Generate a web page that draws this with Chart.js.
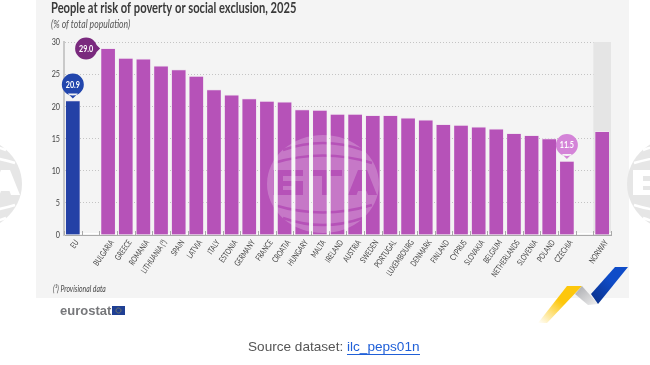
<!DOCTYPE html>
<html>
<head>
<meta charset="utf-8">
<style>
	html, body { margin: 0; padding: 0; background: #fff; }
	#page { position: relative; width: 650px; height: 365px; overflow: hidden; }
	#panel { position: absolute; left: 36px; top: 0; width: 593px; height: 298px; background: #f4f4f4; }
	#chart { position: absolute; left: 0; top: 0; }
	#deco, #deco2 { position: absolute; left: 0; top: 0; }
	#note { position: absolute; left: 53px; top: 283px; font: italic 9.500px Lato, sans-serif; color: #444; transform: scaleX(0.72); transform-origin: left top; white-space: pre; }
	#logo { position: absolute; left: 60px; top: 303px; font: bold 13px "Liberation Sans", sans-serif; color: #77787b; }
	#source { position: absolute; left: 248px; top: 339px; font: 13.6px "Liberation Sans", sans-serif; color: #555; white-space: pre; }
	#source a { color: #2060d8; text-decoration: none; border-bottom: 1px solid #2060d8; }
</style>
</head>
<body>
<div id="page">
	<div id="panel"></div>
	<svg id="deco" width="650" height="365">
		<defs>
			<linearGradient id="yel" x1="1" y1="0" x2="0" y2="1">
				<stop offset="0.45" stop-color="#fdc70c"/>
				<stop offset="1" stop-color="#fdc70c" stop-opacity="0"/>
			</linearGradient>
			<linearGradient id="gry" x1="0" y1="0" x2="1" y2="1">
				<stop offset="0" stop-color="#a8a9ad"/>
				<stop offset="1" stop-color="#f0f0f0"/>
			</linearGradient>
			<linearGradient id="blu" x1="1" y1="0" x2="0" y2="1">
				<stop offset="0.4" stop-color="#0f4cc8"/>
				<stop offset="1" stop-color="#0a2f86"/>
			</linearGradient>
			<mask id="bta" maskUnits="userSpaceOnUse" x="250" y="120" width="150" height="130">
				<ellipse cx="323" cy="184" rx="56" ry="49" fill="#fff"/>
				<path d="M283 150 Q323 136 363 150 M274 163 Q323 148 372 163 M274 205 Q323 220 372 205 M283 218 Q323 232 363 218" stroke="#000" stroke-width="2.5" fill="none"/>
				<path d="M273 170h30v6h-20v5h20v14h-30z M283 186v4h10v-4z M310 170h32v6h-12v19h-8v-19h-12z M348 195l10-25h9l10 25h-9l-1.500-4h-8.500l-1.500 4z" fill="#000" fill-rule="evenodd"/>
			</mask>
		</defs>
		<g transform="translate(-357,0)"><rect x="250" y="120" width="150" height="130" fill="#e6e6e6" mask="url(#bta)"/></g>
		<g transform="translate(360,0)"><rect x="250" y="120" width="150" height="130" fill="#e6e6e6" mask="url(#bta)"/></g>
		<polygon points="567,286 582,286 547,323 538,323" fill="url(#yel)"/>
		<polygon points="582,286 598,304 588,305 575,294" fill="url(#gry)"/>
		<polygon points="615,267 628,267 598,304 591,294" fill="url(#blu)"/>
		<rect x="112" y="306" width="13" height="9" fill="#1f3f94"/>
		<circle cx="118.500" cy="310.500" r="2.500" fill="none" stroke="#c9b23a" stroke-width="0.800" stroke-dasharray="1 0.900"/>
	</svg>
	<canvas id="chart" width="650" height="365"></canvas>
	<svg id="deco2" width="650" height="365">
		<rect x="250" y="120" width="150" height="130" fill="#fff" fill-opacity="0.22" mask="url(#bta)"/>
	</svg>
	<div id="note">(¹) Provisional data</div>
	<div id="logo">eurostat</div>
	<div id="source">Source dataset: <a href="#">ilc_peps01n</a></div>
</div>
<script src="https://cdn.jsdelivr.net/npm/chart.js@4"></script>
<script>
const categories = ["EU", "", "BULGARIA", "GREECE", "ROMANIA", "LITHUANIA (¹)", "SPAIN", "LATVIA", "ITALY", "ESTONIA", "GERMANY", "FRANCE", "CROATIA", "HUNGARY", "MALTA", "IRELAND", "AUSTRIA", "SWEDEN", "PORTUGAL", "LUXEMBOURG", "DENMARK", "FINLAND", "CYPRUS", "SLOVAKIA", "BELGIUM", "NETHERLANDS", "SLOVENIA", "POLAND", "CZECHIA", "", "NORWAY"];
const values = [20.9, null, 29.0, 27.5, 27.4, 26.3, 25.7, 24.7, 22.6, 21.8, 21.2, 20.8, 20.7, 19.5, 19.4, 18.8, 18.8, 18.6, 18.6, 18.2, 17.9, 17.2, 17.1, 16.8, 16.5, 15.8, 15.5, 15.0, 11.5, null, 16.1];
const barColors = values.map((v, i) => i == 0 ? "#2441a6" : "#b652b8");
const callouts = [
	{ index: 0, color: "#2246ad", side: "top" },
	{ index: 2, color: "#7a2a7e", side: "left" },
	{ index: 28, color: "#d484d8", side: "top" },
];
const FONT = 'Lato, sans-serif';
const NARROW = 0.72;

// no condensed font is installed, so squeeze all canvas text horizontally
const canvas = document.getElementById('chart');
const rawCtx = canvas.getContext('2d');
const rawFillText = rawCtx.fillText;
rawCtx.fillText = function(text, x, y) {
	this.save();
	this.translate(x, y);
	this.scale(NARROW, 1);
	rawFillText.call(this, text, 0, 0);
	this.restore();
};

const chartDecor = {
	id: 'chartDecor',
	beforeDatasetsDraw(chart) {
		const { ctx, chartArea: { top, bottom, right }, scales: { x } } = chart;
		const slot = x.getPixelForValue(1) - x.getPixelForValue(0);
		// shaded band behind the non-EU country
		ctx.save();
		ctx.fillStyle = "#e5e5e5";
		ctx.fillRect(x.getPixelForValue(30) - slot / 2, top, slot, bottom - top);
		// white line above the axis and the small ticks between slots
		ctx.fillStyle = "#fff";
		ctx.fillRect(x.left, bottom - 2, right - x.left, 1);
		ctx.fillStyle = "#a9a9a9";
		for (let i = 0; i <= 31; i++) {
			ctx.fillRect(Math.round(x.getPixelForValue(0) + (i - 0.5) * slot), bottom - 4, 1, 4);
		}
		ctx.restore();
	},
	afterDatasetsDraw(chart) {
		const { ctx, scales: { x, y } } = chart;
		ctx.save();
		callouts.forEach(c => {
			const bx = x.getPixelForValue(c.index), by = y.getPixelForValue(values[c.index]);
			const r = 11;
			let cx, cy;
			ctx.fillStyle = c.color;
			ctx.beginPath();
			if (c.side == "top") {
				cx = bx; cy = by - 16;
				ctx.arc(cx, cy, r, 0, Math.PI * 2);
				ctx.moveTo(cx - 5, cy + 9);
				ctx.lineTo(cx, by - 2);
				ctx.lineTo(cx + 5, cy + 9);
			} else {
				cx = bx - 22; cy = by;
				ctx.arc(cx, cy, r, 0, Math.PI * 2);
				ctx.moveTo(cx + 9, cy - 5);
				ctx.lineTo(bx - 8, cy);
				ctx.lineTo(cx + 9, cy + 5);
			}
			ctx.fill();
			ctx.fillStyle = "#fff";
			ctx.font = "bold 10px " + FONT;
			ctx.textAlign = "center";
			ctx.textBaseline = "middle";
			ctx.fillText(values[c.index].toFixed(1), cx, cy);
		});
		ctx.restore();
	}
};

var chart = new Chart(canvas, {
	type: 'bar',
	data: {
		labels: categories,
		datasets: [{
			label: "People at risk of poverty or social exclusion",
			data: values,
			backgroundColor: barColors,
			borderColor: "#f0e6f0",
			borderWidth: { top: 1, left: 0.5, right: 0.5, bottom: 0 },
			barThickness: 14,
		}]
	},
	options: {
		responsive: false,
		animation: false,
		layout: { padding: { left: 51, right: 39, top: 0, bottom: 70 } },
		scales: {
			x: {
				afterFit(scale) { scale.height = 60; },
				grid: { display: false, drawTicks: false },
				border: { display: true, color: "#a9a9a9", width: 1 },
				ticks: {
					autoSkip: false,
					minRotation: 55,
					maxRotation: 55,
					padding: 3,
					labelOffset: 4,
					color: "#444",
					font: { family: FONT, size: 8.4 },
				},
			},
			y: {
				min: 0, max: 30,
				afterFit(scale) { scale.width = 13; },
				grid: { color: "#c4c4c4", tickLength: 0 },
				border: { display: true, color: "#c9c9c9", width: 2, dash: [1, 2] },
				ticks: {
					stepSize: 5,
					padding: 4,
					color: "#444",
					font: { family: FONT, size: 10 },
				},
			},
		},
		plugins: {
			legend: { display: false },
			tooltip: { enabled: false },
			title: {
				display: true,
				text: "People at risk of poverty or social exclusion, 2025",
				align: 'start',
				color: "#3a3a3a",
				font: { family: FONT, size: 15.5, weight: 'bold', lineHeight: 1 },
				padding: { top: 0, bottom: 0 },
			},
			subtitle: {
				display: true,
				text: "(% of total population)",
				align: 'start',
				color: "#555",
				font: { family: FONT, size: 12, style: 'italic', lineHeight: 1 },
				padding: { top: 3, bottom: 11.5 },
			},
		},
	},
	plugins: [chartDecor],
});
</script>
</body>
</html>
